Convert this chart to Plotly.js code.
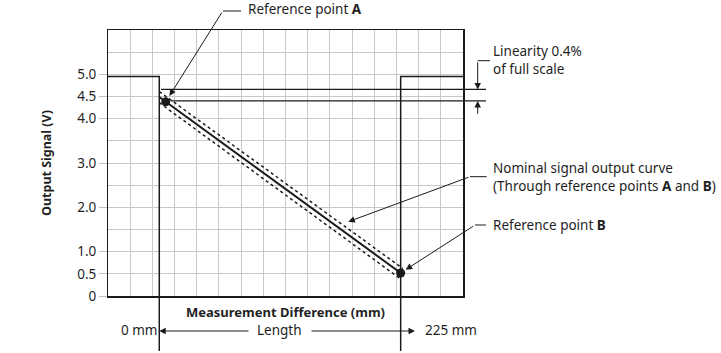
<!DOCTYPE html>
<html>
<head>
<meta charset="utf-8">
<script src="https://cdn.plot.ly/plotly-3.0.1.min.js"></script>
<style>html,body{margin:0;padding:0;background:#fff;}#chart{width:721px;height:353px;}</style>
</head>
<body>
<div id="chart"></div>
<script>
// ---- data (x in mm, y in volts) ----
const yTickVals = [0, 0.5, 1, 2, 3, 4, 4.5, 5];
const yTickText = ['0', '0.5', '1.0', '2.0', '3.0', '4.0', '4.5', '5.0'];
const refNames = ['A', 'B'];
const refX = [6, 225];
const refY = [4.38, 0.52];
const nominalX = [0, 225];
const nominalY = [4.49, 0.52];
const upperDotX = [0, 227];
const upperDotY = [4.61, 0.62];
const lowerDotX = [0, 224];
const lowerDotY = [4.36, 0.40];
const stepLeftX = [-47.8, 0, 0];
const stepLeftY = [4.95, 4.95, 0];
const stepRightX = [225, 225, 283.1];
const stepRightY = [0, 4.95, 4.95];
const bandTop = 4.66;
const bandBottom = 4.40;
const lengthStart = 0;
const lengthEnd = 225;
const xRange = [-47.8, 283.1];
const yRange = [0, 6];

// ---- layout helpers (pixel -> paper) ----
const L = 108, R = 463, T = 30, B = 296;
const px = v => (v - L) / (R - L);
const py = v => (B - v) / (B - T);
const INK = '#1a1a1a';
const TXT = '#1f1f1f';
const FS = 13.5;

const line = (x, y, w, dash) => ({type: 'scatter', mode: 'lines', x, y, hoverinfo: 'skip',
  line: {color: INK, width: w, dash: dash || 'solid'}});

const data = [
  line(stepLeftX, stepLeftY, 1.5),
  line(stepRightX, stepRightY, 1.5),
  line(upperDotX, upperDotY, 1.5, 'dot'),
  line(lowerDotX, lowerDotY, 1.5, 'dot'),
  line(nominalX, nominalY, 2),
  {type: 'scatter', mode: 'markers', x: refX, y: refY, text: refNames, yaxis: 'y2',
   marker: {color: INK, size: 9}, hoverinfo: 'text'}
];

const txt = (text, x, y, anchor, align) => ({text, xref: 'paper', yref: 'paper', x: px(x), y: py(y),
  xanchor: anchor, yanchor: 'middle', align: align || 'left', showarrow: false, borderpad: 0, borderwidth: 0,
  font: {size: FS, color: TXT}});
const arrow = (xref, x, yref, y, ax, ay, standoff) => ({text: '', xref, yref, x, y, ax, ay,
  showarrow: true, arrowhead: 2, arrowsize: 1.3, arrowwidth: 1, arrowcolor: INK, standoff: standoff || 0});

const annotations = [
  txt('Reference point <b>A</b>', 248, 9.5, 'left'),
  txt('Linearity 0.4%<br>of full scale', 492.7, 60, 'left'),
  txt('Nominal signal output curve<br>(Through reference points <b>A</b> and <b>B</b>)', 492.7, 177, 'left'),
  txt('Reference point <b>B</b>', 492.7, 225.3, 'left'),
  txt(lengthStart + ' mm', 156.7, 329.7, 'right'),
  txt('Length', 279, 329.7, 'center', 'center'),
  txt(lengthEnd + ' mm', 425, 329.7, 'left'),
  arrow('x', refX[0], 'y', refY[0], 57, -90.7, 7),
  arrow('x', refX[1], 'y', refY[1], 74, -47.7, 6),
  arrow('paper', px(348.3), 'paper', py(221.7), 121.7, -45),
  arrow('paper', px(477.7), 'y', bandTop, 0, -28.6),
  arrow('paper', px(477.7), 'y', bandBottom, 0, 14.3),
  arrow('x', lengthStart, 'paper', py(331), 90.7, 0),
  arrow('paper', px(415), 'paper', py(331), -105, 0)
];

const seg = (x0, y0, x1, y1) => ({type: 'line', xref: 'paper', yref: 'paper',
  x0: px(x0), y0: py(y0), x1: px(x1), y1: py(y1), line: {color: INK, width: 1}});
const shapes = [
  seg(223, 11, 241, 11),
  seg(477.7, 60.7, 490, 60.7),
  seg(470, 176.7, 486.7, 176.7),
  seg(475, 225, 486, 225),
  {type: 'line', xref: 'paper', yref: 'y', x0: px(161), x1: px(486), y0: bandTop, y1: bandTop,
   line: {color: INK, width: 1.2}},
  {type: 'line', xref: 'paper', yref: 'y', x0: px(171), x1: px(486), y0: bandBottom, y1: bandBottom,
   line: {color: INK, width: 1.2}},
  {type: 'line', xref: 'x', yref: 'paper', x0: lengthStart, x1: lengthStart, y0: py(351), y1: 0,
   line: {color: INK, width: 1.5}},
  {type: 'line', xref: 'x', yref: 'paper', x0: lengthEnd, x1: lengthEnd, y0: py(351), y1: 0,
   line: {color: INK, width: 1.5}}
];

const layout = {
  width: 721, height: 353,
  margin: {l: L, r: 721 - R, t: T, b: 353 - B, pad: 0},
  paper_bgcolor: '#fff', plot_bgcolor: '#fff',
  showlegend: false,
  font: {family: '"Noto Sans", "DejaVu Sans", sans-serif', color: TXT, size: FS},
  xaxis: {
    range: xRange, tick0: xRange[0], dtick: (xRange[1] - xRange[0]) / 16,
    showgrid: true, gridcolor: '#c8c8c8', gridwidth: 1,
    showticklabels: false, ticks: '', zeroline: false,
    showline: true, mirror: true, linecolor: INK, linewidth: 1.5,
    title: {text: '<b>Measurement Difference (mm)</b>', font: {size: 13, color: TXT}, standoff: 11}
  },
  yaxis: {
    range: yRange, tick0: 0, dtick: 0.5,
    showgrid: true, gridcolor: '#c8c8c8', gridwidth: 1,
    showticklabels: false, ticks: '', zeroline: false,
    showline: true, mirror: true, linecolor: INK, linewidth: 1.5
  },
  yaxis2: {
    overlaying: 'y', side: 'left', anchor: 'x', range: yRange,
    tickmode: 'array', tickvals: yTickVals, ticktext: yTickText,
    ticks: 'outside', ticklen: 8, tickcolor: '#c0c0c0', tickwidth: 1,
    showgrid: false, zeroline: false, showline: false,
    tickfont: {size: FS, color: TXT},
    title: {text: '<b>Output Signal (V)</b>', font: {size: 12.5, color: TXT}, standoff: 22}
  },
  annotations, shapes
};

Plotly.newPlot('chart', data, layout, {staticPlot: true, displayModeBar: false});
</script>
</body>
</html>
